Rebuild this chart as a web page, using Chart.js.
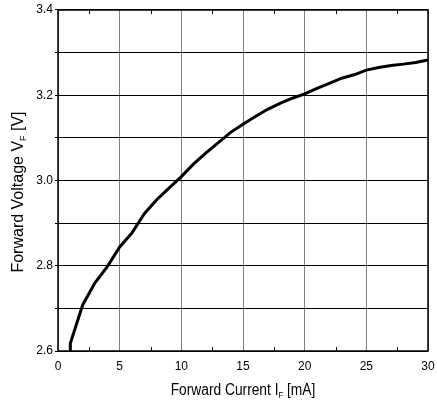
<!DOCTYPE html>
<html>
<head>
<title>Forward Voltage vs Forward Current</title>
<script src="https://cdn.jsdelivr.net/npm/chart.js@4"></script>
<style type="text/css">
body { margin: 0; background: #fff; }
#wrap { width: 437px; height: 405px; }
</style>
</head>
<body>
<div id="wrap"><canvas id="vf"></canvas></div>
<script type="text/javascript">

// forward current (mA) and forward voltage (V)
var current = [1, 1, 2, 3, 4, 5, 6, 7, 8, 9, 10, 11, 12, 13, 14, 15, 16, 17, 18, 19, 20, 21, 22, 23, 24, 25, 26, 27, 28, 29, 30];
var voltage = [2.600, 2.618, 2.708, 2.760, 2.798, 2.844, 2.877, 2.922, 2.955, 2.982, 3.009, 3.039, 3.065, 3.089, 3.113, 3.132, 3.150, 3.167, 3.181, 3.193, 3.203, 3.216, 3.228, 3.240, 3.248, 3.259, 3.265, 3.270, 3.273, 3.277, 3.283];

var xTicks = [0, 5, 10, 15, 20, 25, 30];
var xMinor = [2.5, 7.5, 12.5, 17.5, 22.5, 27.5];
var yLabels = [2.6, 2.8, 3.0, 3.2, 3.4];

var FONT = '"Liberation Sans", Arial, sans-serif';

var pts = [];
for (var i = 0; i < current.length; i++) {
  pts.push({ x: current[i], y: voltage[i] });
}

// frame, minor ticks and axis titles with subscripts
var decor = {
  id: 'decor',
  afterDraw: function (chart) {
    var ctx = chart.ctx, a = chart.chartArea;
    var xs = chart.scales.x;
    ctx.save();
    ctx.strokeStyle = '#000';
    ctx.lineWidth = 1;
    xMinor.forEach(function (v) {
      var px = Math.round(xs.getPixelForValue(v)) + 0.5;
      ctx.beginPath();
      ctx.moveTo(px, a.bottom); ctx.lineTo(px, a.bottom - 4);
      ctx.moveTo(px, a.top); ctx.lineTo(px, a.top + 4);
      ctx.stroke();
    });
    ctx.lineWidth = 1.5;
    ctx.strokeRect(a.left, a.top, a.right - a.left, a.bottom - a.top);

    ctx.fillStyle = '#000';
    ctx.textBaseline = 'middle';

    // x title, drawn a bit narrow like the original
    ctx.save();
    ctx.translate((a.left + a.right) / 2, 391);
    ctx.scale(0.86, 1);
    drawParts(ctx, [['Forward Current I', 16, 0], ['F', 9, 5], [' [mA]', 16, 0]], 0, 0);
    ctx.restore();

    // y title
    ctx.translate(19, 192);
    ctx.rotate(-Math.PI / 2);
    drawParts(ctx, [['Forward Voltage V', 16, 0], ['F', 9, 5], [' [V]', 16, 0]], 0, 0);
    ctx.restore();
  }
};

function drawParts(ctx, parts, cx, cy) {
  var total = 0;
  parts.forEach(function (p) {
    ctx.font = p[1] + 'px ' + FONT;
    total += ctx.measureText(p[0]).width;
  });
  var x = cx - total / 2;
  ctx.textAlign = 'left';
  parts.forEach(function (p) {
    ctx.font = p[1] + 'px ' + FONT;
    ctx.fillText(p[0], x, cy + p[2]);
    x += ctx.measureText(p[0]).width;
  });
}

var ctx = document.getElementById('vf').getContext('2d');
var chart = new Chart(ctx, {
  type: 'line',
  data: {
    datasets: [{
      data: pts,
      borderColor: '#000',
      borderWidth: 3,
      pointRadius: 0,
      tension: 0,
      fill: false
    }]
  },
  options: {
    responsive: true,
    maintainAspectRatio: false,
    animation: false,
    layout: { padding: { top: 10, right: 9, left: 0, bottom: 0 } },
    plugins: { legend: { display: false }, tooltip: { enabled: false } },
    scales: {
      x: {
        type: 'linear',
        min: 0, max: 30,
        afterBuildTicks: function (s) { s.ticks = xTicks.map(function (v) { return { value: v }; }); },
        afterFit: function (s) {
          s.height = 54;
          s.paddingLeft = 0;
          s.paddingRight = 0;
        },
        grid: { color: '#808080', lineWidth: 1, drawTicks: false },
        border: { display: false },
        ticks: {
          padding: 8,
          color: '#000',
          maxRotation: 0,
          font: { family: FONT, size: 12 }
        }
      },
      y: {
        type: 'linear',
        min: 2.6, max: 3.4,
        afterBuildTicks: function (s) {
          var t = [];
          for (var k = 0; k <= 8; k++) t.push({ value: 2.6 + k * 0.1 });
          s.ticks = t;
        },
        afterFit: function (s) {
          s.width = 58;
          s.paddingTop = 0;
          s.paddingBottom = 0;
        },
        grid: { color: '#000', lineWidth: 1, tickLength: 3 },
        border: { display: false },
        ticks: {
          padding: 2,
          color: '#000',
          font: { family: FONT, size: 12 },
          callback: function (v) {
            for (var j = 0; j < yLabels.length; j++) {
              if (Math.abs(yLabels[j] - v) < 1e-6) return yLabels[j].toFixed(1);
            }
            return '';
          }
        }
      }
    }
  },
  plugins: [decor]
});
</script>
</body>
</html>
